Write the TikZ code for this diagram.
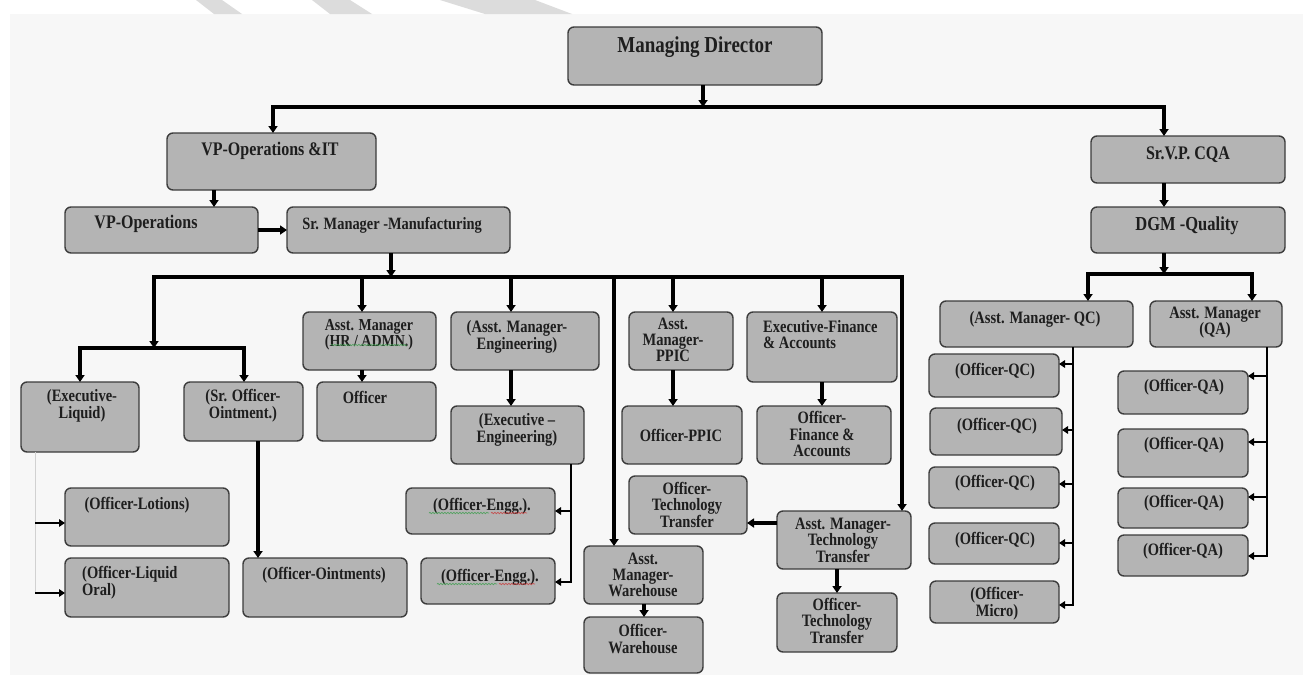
\documentclass[tikz,border=0pt]{standalone}
\usepackage{fontspec}
\setmainfont{Liberation Serif}
\usepackage{graphicx}
\usetikzlibrary{arrows.meta,decorations.pathmorphing}
\definecolor{bgc}{HTML}{F7F7F7}
\definecolor{boxfill}{HTML}{B4B4B4}
\definecolor{boxline}{HTML}{3C3C3C}
\definecolor{stripe}{HTML}{DCDCDC}
\definecolor{ink}{HTML}{1E1E1E}
\definecolor{sqg}{HTML}{3E9E4E}
\definecolor{sqr}{HTML}{C83A3A}
\tikzset{
 bx/.style={draw=boxline, fill=boxfill, line width=1.4pt, rounded corners=6pt, anchor=north west, inner sep=0pt, outer sep=0pt},
 tx/.style={inner sep=0pt, text=ink, yshift=-3pt},
 thk/.style={line width=3.1pt, draw=black, -{Triangle[length=7pt,width=9pt]}},
 med/.style={line width=2.4pt, draw=black, -{Triangle[length=6pt,width=7.5pt]}},
 squig/.style={decorate, decoration={snake, segment length=3pt, amplitude=0.7pt}, line width=0.7pt, opacity=0.8},
}
\newcommand\Bx[5]{\node[bx,minimum width=#4pt,minimum height=#5pt] (#1) at (#2,#3) {};}
\newcommand\Tx[5][14.5]{\node[tx] (#2) at (#3,#4) {\fontsize{#1}{12}\selectfont\bfseries\scalebox{1}[1.2]{\begin{tabular}{@{}c@{}}#5\end{tabular}}};}
\newcommand\TxL[5][14.5]{\node[tx,anchor=west] (#2) at (#3,#4) {\fontsize{#1}{12}\selectfont\bfseries\scalebox{1}[1.2]{\begin{tabular}{@{}l@{}}#5\end{tabular}}};}
\begin{document}
\begin{tikzpicture}[x=1pt,y=-1pt]
\useasboundingbox (0,0) rectangle (1306,675);
\fill[white] (0,0) rectangle (1306,675);
\fill[bgc] (10,14) rectangle (1303,675);
\fill[stripe] (196,0) -- (222,0) -- (242,14) -- (214,14) -- cycle;
\fill[stripe] (312,0) -- (350,0) -- (372,14) -- (330,14) -- cycle;
\fill[stripe] (440,0) -- (535,0) -- (572,14) -- (485,14) -- cycle;

% boxes
\Bx{md}{568}{27}{254}{58}
\Bx{vpit}{167}{133}{209}{57}
\Bx{vpo}{65}{207}{193}{46}
\Bx{smm}{287}{207}{223}{46}
\Bx{svp}{1091}{136}{194}{47}
\Bx{dgm}{1091}{207}{194}{46}
\Bx{exl}{21}{382}{118}{70}
\Bx{soo}{184}{382}{119}{59}
\Bx{hr}{303}{312}{133}{58}
\Bx{off}{317}{382}{119}{59}
\Bx{ame}{451}{312}{148}{58}
\Bx{ee}{451}{406}{133}{58}
\Bx{oea}{406}{488}{149}{46}
\Bx{oeb}{421}{558}{134}{46}
\Bx{amp}{629}{312}{104}{58}
\Bx{opp}{622}{406}{120}{58}
\Bx{efa}{747}{312}{150}{70}
\Bx{ofa}{757}{406}{134}{58}
\Bx{otta}{629}{476}{118}{58}
\Bx{amtt}{777}{511}{134}{58}
\Bx{ottb}{777}{593}{120}{59}
\Bx{amw}{584}{546}{119}{58}
\Bx{ow}{584}{617}{119}{56}
\Bx{ol}{65}{488}{164}{58}
\Bx{olo}{65}{558}{164}{59}
\Bx{oo}{243}{558}{164}{59}
\Bx{amqc}{940}{301}{193}{46}
\Bx{amqa}{1150}{301}{132}{46}
\Bx{qca}{929}{354}{130}{43}
\Bx{qcb}{930}{408}{132}{47}
\Bx{qcc}{929}{467}{130}{41}
\Bx{qcd}{929}{523}{130}{41}
\Bx{mic}{930}{581}{129}{42}
\Bx{qaa}{1118}{371}{130}{43}
\Bx{qab}{1118}{429}{130}{48}
\Bx{qac}{1118}{488}{130}{40}
\Bx{qad}{1118}{535}{130}{41}

% texts
\Tx[19]{tmd}{695}{44}{Managing Director}
\Tx[16]{tvpit}{270}{148}{VP-Operations \&IT}
\Tx[16]{tvpo}{146}{221}{VP-Operations}
\Tx[14.4]{tsmm}{392}{223}{Sr. Manager -Manufacturing}
\Tx[16]{tsvp}{1188}{152}{Sr.V.P. CQA}
\Tx[16.5]{tdgm}{1187}{223}{DGM -Quality}
\Tx{texl}{82}{403}{(Executive-\\Liquid)}
\Tx{tsoo}{243}{403}{(Sr. Officer-\\Ointment.)}
\Tx[14]{thr}{369}{332}{Asst. Manager\\(HR / ADMN.)}
\Tx{toff}{365}{397}{Officer}
\Tx{tame}{517}{334}{(Asst. Manager-\\Engineering)}
\Tx{tee}{517}{427}{(Executive –\\Engineering)}
\Tx{toea}{482}{504}{(Officer-Engg.).}
\Tx{toeb}{490}{575}{(Officer-Engg.).}
\Tx{tamp}{673}{339}{Asst.\\Manager-\\PPIC}
\Tx{topp}{681}{435}{Officer-PPIC}
\TxL{tefa}{763}{334}{Executive-Finance\\\& Accounts}
\Tx{tofa}{822}{433}{Officer-\\Finance \&\\Accounts}
\Tx{totta}{687}{504}{Officer-\\Technology\\Transfer}
\Tx{tamtt}{843}{539}{Asst. Manager-\\Technology\\Transfer}
\Tx{tottb}{837}{620}{Officer-\\Technology\\Transfer}
\Tx{tamw}{643}{574}{Asst.\\Manager-\\Warehouse}
\Tx{tow}{643}{638}{Officer-\\Warehouse}
\Tx{tol}{137}{503}{(Officer-Lotions)}
\TxL{tolo}{82}{580}{(Officer-Liquid\\Oral)}
\Tx{too}{324}{573}{(Officer-Ointments)}
\Tx{tamqc}{1035}{317}{(Asst. Manager- QC)}
\Tx{tamqa}{1215}{320}{Asst. Manager\\(QA)}
\Tx{tqca}{995}{369}{(Officer-QC)}
\Tx{tqcb}{997}{424}{(Officer-QC)}
\Tx{tqcc}{995}{481}{(Officer-QC)}
\Tx{tqcd}{995}{538}{(Officer-QC)}
\Tx{tmic}{997}{601}{(Officer-\\Micro)}
\Tx{tqaa}{1184}{385}{(Officer-QA)}
\Tx{tqab}{1184}{443}{(Officer-QA)}
\Tx{tqac}{1184}{501}{(Officer-QA)}
\Tx{tqad}{1183}{549}{(Officer-QA)}

% spell-check squiggles
\draw[squig,sqg] (331,345) -- (407,345);
\draw[squig,sqg] (429,513) -- (489,513);
\draw[squig,sqr] (491,513) -- (527,513);
\draw[squig,sqg] (437,584) -- (497,584);
\draw[squig,sqr] (499,584) -- (535,584);

% top level connectors
\coordinate (j0) at (703,107);
\coordinate (cL) at (273,107);
\coordinate (cR) at (1164,107);
\draw[thk] (md.south -| j0) -- (j0);
\draw[thk] (j0) -| (vpit.north -| cL);
\draw[thk] (j0) -| (svp.north -| cR);
\coordinate (k1) at (214,0);
\draw[thk] (vpit.south -| k1) -- (vpo.north -| k1);
\draw[thk] (vpo.east) -- (smm.west);

% manufacturing bus
\coordinate (k2) at (391,277);
\draw[thk] (smm.south -| k2) -- (k2);
\coordinate (e1) at (154,348);
\coordinate (e2) at (80,348);
\coordinate (e3) at (244,348);
\coordinate (d2) at (362,277);
\coordinate (d3) at (511,277);
\coordinate (d4) at (614,277);
\coordinate (d5) at (673,277);
\coordinate (d6) at (822,277);
\coordinate (d7) at (902,277);
\draw[thk] (k2) -| (e1);
\draw[thk] (k2) -| (amtt.north -| d7);
\draw[thk] (e1) -| (exl.north -| e2);
\draw[thk] (e1) -| (soo.north -| e3);
\draw[thk] (d2) -- (hr.north -| d2);
\draw[thk] (d3) -- (ame.north -| d3);
\draw[thk] (d4) -- (amw.north -| d4);
\draw[thk] (d5) -- (amp.north -| d5);
\draw[thk] (d6) -- (efa.north -| d6);

% second level
\draw[thk] (hr.south -| d2) -- (off.north -| d2);
\draw[thk] (ame.south -| d3) -- (ee.north -| d3);
\draw[thk] (amp.south -| d5) -- (opp.north -| d5);
\draw[thk] (efa.south -| d6) -- (ofa.north -| d6);
\coordinate (w1) at (644,0);
\draw[thk] (amw.south -| w1) -- (ow.north -| w1);
\coordinate (m1) at (0,523);
\draw[thk] (amtt.west |- m1) -- (otta.east |- m1);
\coordinate (m2) at (837,0);
\draw[thk] (amtt.south -| m2) -- (ottb.north -| m2);
\coordinate (s1) at (258,0);
\draw[thk] (soo.south -| s1) -- (oo.north -| s1);

% engineering officers
\coordinate (f1) at (571,511);
\coordinate (f2) at (571,582);
\draw[med] (ee.south -| f1) |- (oeb.east |- f2);
\draw[med] (f1) -- (oea.east |- f1);

% liquid officers
\coordinate (g1) at (35,523);
\coordinate (g2) at (35,593);
\draw[line width=1pt,draw=black!18] (exl.south -| g1) -- (g2);
\draw[med] (g1) -- (ol.west |- g1);
\draw[med] (g2) -- (olo.west |- g2);

% quality side
\coordinate (q0) at (1164,274);
\coordinate (qL) at (1088,274);
\coordinate (qR) at (1252,274);
\draw[thk] (svp.south -| cR) -- (dgm.north -| cR);
\draw[thk] (dgm.south -| q0) -- (q0);
\draw[thk] (q0) -| (amqc.north -| qL);
\draw[thk] (q0) -| (amqa.north -| qR);

\coordinate (r1) at (1073,364);
\coordinate (r2) at (1073,430);
\coordinate (r3) at (1073,484);
\coordinate (r4) at (1073,543);
\coordinate (r5) at (1073,605);
\draw[med] (amqc.south -| r1) |- (mic.east |- r5);
\draw[med] (r1) -- (qca.east |- r1);
\draw[med] (r2) -- (qcb.east |- r2);
\draw[med] (r3) -- (qcc.east |- r3);
\draw[med] (r4) -- (qcd.east |- r4);

\coordinate (u1) at (1267,376);
\coordinate (u2) at (1267,442);
\coordinate (u3) at (1267,497);
\coordinate (u4) at (1267,556);
\draw[med] (amqa.south -| u1) |- (qad.east |- u4);
\draw[med] (u1) -- (qaa.east |- u1);
\draw[med] (u2) -- (qab.east |- u2);
\draw[med] (u3) -- (qac.east |- u3);
\end{tikzpicture}
\end{document}
